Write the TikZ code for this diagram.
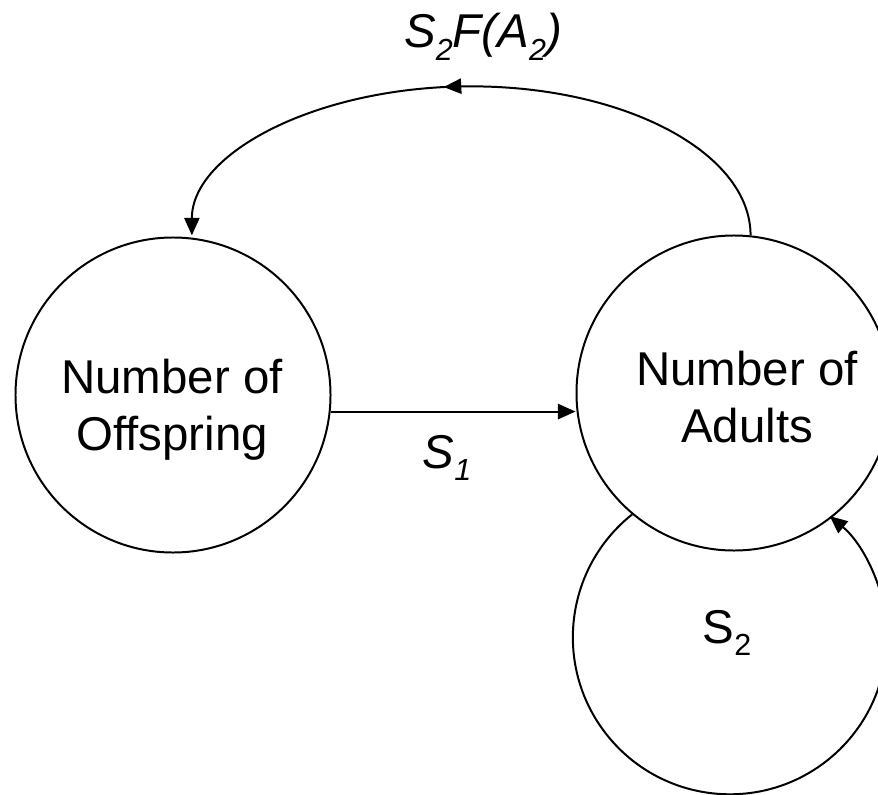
\documentclass[tikz,border=0pt]{standalone}
\usepackage{fontspec}
\setmainfont{Liberation Sans}
\usetikzlibrary{arrows.meta,decorations.markings}
\newcommand{\subtxt}[1]{\raisebox{-11pt}{\fontsize{26}{26}\selectfont #1}}

\begin{document}
\begin{tikzpicture}
    [x=0.03cm, y=-0.03cm, line width=1.7pt,
     pop/.style={draw, circle, inner sep=0pt, minimum size=9.45cm},
     txt/.style={font=\fontsize{40.5}{48.5}\selectfont, align=center},
     arr/.style={-{Triangle[length=15pt,width=13pt]}}]
  \useasboundingbox (0,0) rectangle (878,795);
  \clip (0,0) rectangle (878,795);

  \node[pop] (off) at (173,395) {};
  \node[pop] (adu) at (734,393) {};

  \node[txt] (offtxt) at (172,410) {Number of\\Offspring};
  \node[txt] (adutxt) at (747,397) {Number of\\Adults};

  % offspring -> adults
  \draw[arr] (off.-6) -- (off.-6 -| adu.west);
  \node[txt, anchor=base] (s1lbl) at (447,468) {\itshape S\/\subtxt{1}};

  % adults -> offspring
  \draw[arr, postaction={decorate},
        decoration={markings, mark=at position 0.54 with {\arrow{Triangle[length=15pt,width=13pt]}}}]
    (adu.84) arc[start angle=0, end angle=180, x radius=8.38cm, y radius=4.47cm];
  \node[txt, anchor=base] (toplbl) at (483,48) {\itshape S\/\subtxt{2}F(A\/\subtxt{2})};

  % adults -> adults
  \draw[arr] (adu.230.5) arc[start angle=128.5, end angle=410.5, radius=4.71cm];
  \node[txt, anchor=base] (s2lbl) at (727,643) {S\subtxt{2}};
\end{tikzpicture}
\end{document}
